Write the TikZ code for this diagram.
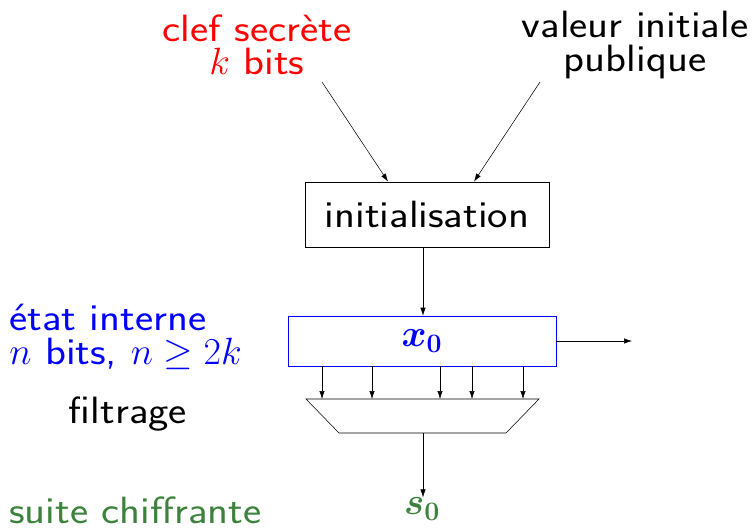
\RequirePackage{fix-cm}
\documentclass[tikz,border=0pt]{standalone}
\usepackage{fontspec}
\setsansfont{Latin Modern Sans}[FakeStretch=1.14]
\usepackage{bm}
\usetikzlibrary{calc, positioning, arrows.meta}

\definecolor{cleyred}{RGB}{255,0,0}
\definecolor{etatblue}{RGB}{0,0,255}
\definecolor{suitegreen}{RGB}{60,130,60}

\begin{document}
\begin{tikzpicture}[
    x=0.75pt, y=-0.75pt,
    font=\sffamily\fontsize{28.5}{25}\selectfont,
    box/.style={draw, thin, minimum width=183pt, minimum height=49pt, inner sep=0pt},
    state/.style={draw=etatblue, thin, minimum width=201pt, minimum height=37.5pt, inner sep=0pt},
    label/.style={align=center, inner sep=0pt},
    flow/.style={-{Latex[length=6pt, width=4pt]}, thin, draw=black}
]
\useasboundingbox (0,0) rectangle (755,529);

% Inputs
\node[label, text=cleyred] (key) at (257,45) {clef secrète\\$k$ bits};
\node[label] (iv) at (635,45) {valeur initiale\\publique};
\coordinate (keyfoot) at (322,82);
\coordinate (ivfoot) at (540,82);

% Initialisation and internal state
\node[box] (init) at (427,214.5) {initialisation};
\node[state] (state) at (422,341) {\textcolor{etatblue}{$\bm{x_0}$}};
\coordinate (out) at (632,341);

% Filter
\coordinate (ftl) at (306,399);
\coordinate (ftr) at (539,399);
\coordinate (fbr) at (506,433);
\coordinate (fbl) at (339,433);
\draw (ftl) -- (ftr) -- (fbr) -- (fbl) -- cycle;
\coordinate (fbot) at (423,433);

% Output
\node[inner sep=0pt] (s0) at (422,509) {\textcolor{suitegreen}{$\bm{s_0}$}};

% Side labels
\node[label, align=left, anchor=west, text=etatblue] (etat) at (9,337) {état interne\\$n$ bits, $n \geq 2k$};
\node[label] (filtrage) at (128,414) {filtrage};
\node[label, anchor=west, text=suitegreen] (suite) at (9,510) {suite chiffrante};

% Edges
\draw[flow] (keyfoot) -- (init.north -| 388,0);
\draw[flow] (ivfoot) -- (init.north -| 474,0);
\draw[flow] (init.south -| 423,0) -- (state.north -| 423,0);
\draw[flow] (state.east) -- (out);
\foreach \xb in {322,372,440,472,523}
    \draw[flow] (state.south -| \xb,0) -- (\xb,399);
\draw[flow] (fbot) -- (s0.north -| 423,0);

\end{tikzpicture}
\end{document}
